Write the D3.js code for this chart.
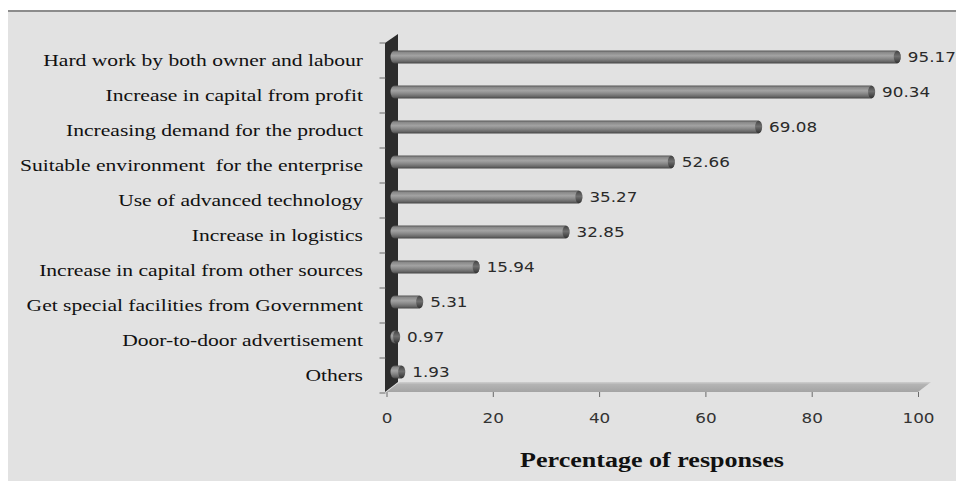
<!DOCTYPE html>
<html>
<head>
<meta charset="utf-8">
<script src="https://cdn.jsdelivr.net/npm/d3@7"></script>
<style>
  html, body { margin: 0; padding: 0; background: #ffffff; }
  svg { display: block; }
</style>
</head>
<body>
<svg id="chart" width="956" height="481"></svg>
<script>
// Factors reported by respondents, top to bottom
const categories = [
  "Hard work by both owner and labour",
  "Increase in capital from profit",
  "Increasing demand for the product",
  "Suitable environment  for the enterprise",
  "Use of advanced technology",
  "Increase in logistics",
  "Increase in capital from other sources",
  "Get special facilities from Government",
  "Door-to-door advertisement",
  "Others"
];
const values = [95.17, 90.34, 69.08, 52.66, 35.27, 32.85, 15.94, 5.31, 0.97, 1.93];
const xTicks = [0, 20, 40, 60, 80, 100];
const axisTitle = "Percentage of responses";

const svg = d3.select("#chart");
const W = 956, H = 481;

// Depth offset of the pseudo-3D plot (back plane relative to front plane)
const DX = 13, DY = -10;

const x = d3.scaleLinear().domain([0, 100]).range([386.5, 918]);
const y = d3.scaleBand().domain(categories).range([43, 393]).padding(0);

// Panel background with a top border line
svg.append("rect").attr("x", 8).attr("y", 10).attr("width", W - 8).attr("height", H - 10).attr("fill", "#e2e2e2");
svg.append("rect").attr("x", 8).attr("y", 10).attr("width", W - 8).attr("height", 2).attr("fill", "#8c8c8c");

const defs = svg.append("defs");
const g1 = defs.append("linearGradient").attr("id", "barGrad").attr("x1", 0).attr("y1", 0).attr("x2", 0).attr("y2", 1);
[["0%", "#555555"], ["15%", "#8a8a8a"], ["40%", "#a3a3a3"], ["65%", "#858585"], ["85%", "#676767"], ["100%", "#444444"]]
  .forEach(([o, c]) => g1.append("stop").attr("offset", o).attr("stop-color", c));
const g2 = defs.append("linearGradient").attr("id", "capGrad").attr("x1", 0).attr("y1", 0).attr("x2", 0).attr("y2", 1);
[["0%", "#3c3c3c"], ["45%", "#6a6a6a"], ["100%", "#2e2e2e"]]
  .forEach(([o, c]) => g2.append("stop").attr("offset", o).attr("stop-color", c));
const g3 = defs.append("linearGradient").attr("id", "floorGrad").attr("x1", 0).attr("y1", 0).attr("x2", 0).attr("y2", 1);
[["0%", "#cfcfcf"], ["25%", "#b4b4b4"], ["100%", "#a4a4a4"]]
  .forEach(([o, c]) => g3.append("stop").attr("offset", o).attr("stop-color", c));

const x0 = x(0), yTop = y.range()[0], yBot = y.range()[1];

// Floor
svg.append("path")
  .attr("d", `M${x0},${yBot - 1}L${x(100)},${yBot - 1}L${x(100) + DX},${yBot - 1 + DY}L${x0 + DX},${yBot - 1 + DY}Z`)
  .attr("fill", "url(#floorGrad)");

// Side wall
svg.append("path")
  .attr("d", `M${x0 - 1.5},${yTop}L${x0 - 1.5 + DX},${yTop + DY + 1}L${x0 - 1.5 + DX},${yBot - 1 + DY}L${x0 - 1.5},${yBot - 1}Z`)
  .attr("fill", "#2c2c2c");

// Category tick marks at band boundaries
const bounds = categories.map(c => y(c)).concat([yBot]);
svg.append("g").selectAll("line").data(bounds).join("line")
  .attr("x1", x0 - 7).attr("x2", x0 - 1)
  .attr("y1", d => d).attr("y2", d => d)
  .attr("stroke", "#6a6a6a").attr("stroke-width", 1);

// Bottom axis ticks and labels
const xAxis = d3.axisBottom(x).tickValues(xTicks).tickSize(5).tickFormat(d3.format("d"));
const gx = svg.append("g").attr("transform", `translate(0,${yBot - 1})`).call(xAxis);
gx.select(".domain").remove();
gx.selectAll(".tick line").attr("stroke", "#6a6a6a");
gx.selectAll(".tick text")
  .attr("y", 0).attr("dy", 0)
  .attr("fill", "#333")
  .style("font-family", "'DejaVu Sans', Verdana, sans-serif")
  .style("font-size", "14px")
  .attr("transform", "translate(0,31) scale(1.2,1)");

// Bars as horizontal cylinders
const barH = 13, rx = 4;
const bars = svg.append("g");
categories.forEach((c, i) => {
  const cy = y(c) + y.bandwidth() / 2 + DY / 2 + 1.5;
  const xs = x0 + 4;
  const xe = x(values[i]) + DX * 0.65;
  bars.append("rect")
    .attr("x", xs).attr("y", cy - barH / 2)
    .attr("width", Math.max(xe - xs, 1)).attr("height", barH)
    .attr("rx", rx).attr("ry", barH / 2)
    .attr("fill", "url(#barGrad)");
  bars.append("ellipse")
    .attr("cx", xe - rx + 0.5).attr("cy", cy)
    .attr("rx", rx - 0.5).attr("ry", barH / 2 - 0.3)
    .attr("fill", "url(#capGrad)").attr("opacity", 0.9);
  // Value label
  svg.append("text")
    .attr("transform", `translate(${xe + 7},${cy + 5}) scale(1.2,1)`)
    .attr("fill", "#2a2a2a")
    .style("font-family", "'DejaVu Sans', Verdana, sans-serif")
    .style("font-size", "14px")
    .text(values[i].toFixed(2));
});

// Category labels, right aligned (spacing kept as written)
const labels = svg.append("g").selectAll("text").data(categories).join("text")
  .attr("text-anchor", "end")
  .attr("xml:space", "preserve")
  .style("white-space", "pre")
  .attr("fill", "#111")
  .style("font-family", "'Liberation Serif', 'Times New Roman', serif")
  .style("font-size", "17px")
  .text(d => d);
const natural = labels.nodes()[0].getComputedTextLength();
const kLab = 320 / natural;
labels.attr("transform", d => `translate(363,${y(d) + y.bandwidth() / 2 + 5}) scale(${kLab},1)`);

// Axis title
const title = svg.append("text")
  .attr("text-anchor", "middle")
  .attr("fill", "#111")
  .style("font-family", "'Liberation Serif', 'Times New Roman', serif")
  .style("font-weight", "bold")
  .style("font-size", "20px")
  .text(axisTitle);
const kTitle = 264 / title.node().getComputedTextLength();
title.attr("transform", `translate(652,467) scale(${kTitle},1)`);
</script>
</body>
</html>
